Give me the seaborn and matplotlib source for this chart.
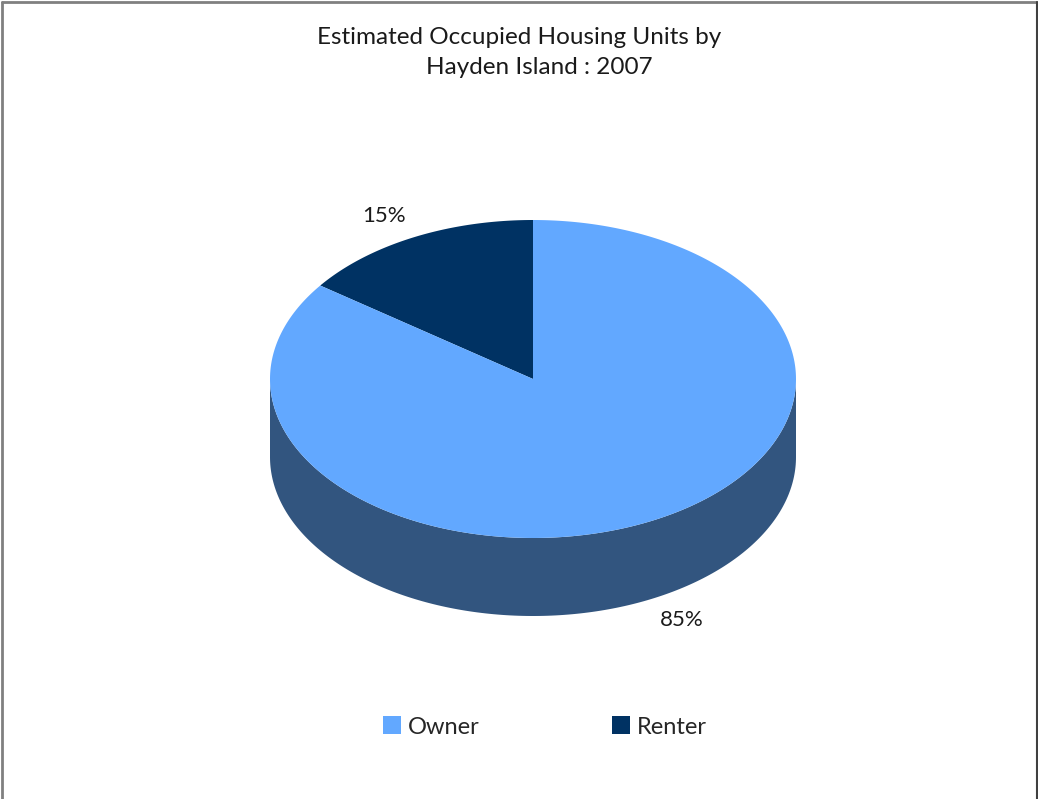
import numpy as np
import matplotlib
matplotlib.use("Agg")
import matplotlib.pyplot as plt
import seaborn as sns
from matplotlib.patches import Polygon, Patch

# =========================================================
# DATA
# =========================================================

categories = ["Owner", "Renter"]
shares = [85, 15]
pct_labels = ["85%", "15%"]
colors = ["#62A8FF", "#003263"]
side_color = "#32557F"

# =========================================================
# STYLE
# =========================================================

sns.set_theme(style="white")
plt.rcParams["font.family"] = ["Lato", "DejaVu Sans"]

W, H = 1038, 799
fig = plt.figure(figsize=(W / 100, H / 100), dpi=100)
ax = fig.add_axes([0, 0, 1, 1])
ax.set_xlim(0, W)
ax.set_ylim(H, 0)
ax.axis("off")

# pie geometry (pixel space)
cx, cy = 533, 379
rx, ry = 263, 159
depth = 78


def ell(t):
    t = np.radians(t)
    return cx + rx * np.cos(t), cy - ry * np.sin(t)


# =========================================================
# SIDE (front half of the cylinder)
# =========================================================

t = np.linspace(180, 360, 200)
xs, ys = ell(t)
side = np.concatenate([np.column_stack([xs, ys]),
                       np.column_stack([xs[::-1], ys[::-1] + depth])])
ax.add_patch(Polygon(side, closed=True, facecolor=side_color,
                     edgecolor="none", zorder=1))

# =========================================================
# TOP WEDGES
# =========================================================

# renter starts at 12 o'clock and goes counter-clockwise, owner fills the rest
order = [1, 0]
angle = 90
for i in order:
    span = shares[i] * 3.6
    t = np.linspace(angle, angle + span, 300)
    xs, ys = ell(t)
    pts = np.column_stack([np.r_[cx, xs], np.r_[cy, ys]])
    ax.add_patch(Polygon(pts, closed=True, facecolor=colors[i],
                         edgecolor="none", zorder=2))
    mid = np.radians(angle + span / 2)
    lx = cx + 1.25 * rx * np.cos(mid)
    ly = cy - 1.15 * ry * np.sin(mid)
    if np.sin(mid) < 0:
        ly += depth
    ax.text(lx, ly, pct_labels[i], ha="center", va="center",
            fontsize=16, color="#1a1a1a", zorder=3)
    angle += span

# =========================================================
# TITLE
# =========================================================

ax.text(519, 38, "Estimated Occupied Housing Units by", ha="center",
        va="center", fontsize=17.5, color="#1a1a1a")
ax.text(539, 67, "Hayden Island : 2007", ha="center", va="center",
        fontsize=17.5, color="#1a1a1a")

# =========================================================
# LEGEND
# =========================================================

handles = [Patch(facecolor=c, edgecolor="none") for c in colors]
ax.legend(handles, categories, loc="center", bbox_to_anchor=(545 / W, 1 - 727 / H),
          ncol=2, frameon=False, fontsize=17, handlelength=0.75,
          handleheight=0.8, handletextpad=0.3, columnspacing=5.6)

# =========================================================
# BORDER
# =========================================================

fig.add_artist(plt.Line2D([1.5 / W, 1.5 / W], [0, 1 - 1.5 / H], color="#808080", lw=2))
fig.add_artist(plt.Line2D([1.5 / W, 1 - 1.5 / W], [1 - 1.5 / H, 1 - 1.5 / H], color="#808080", lw=2))
fig.add_artist(plt.Line2D([1 - 1.5 / W, 1 - 1.5 / W], [0, 1 - 1.5 / H], color="#404040", lw=1.5))

fig.savefig("out.png", dpi=100)
